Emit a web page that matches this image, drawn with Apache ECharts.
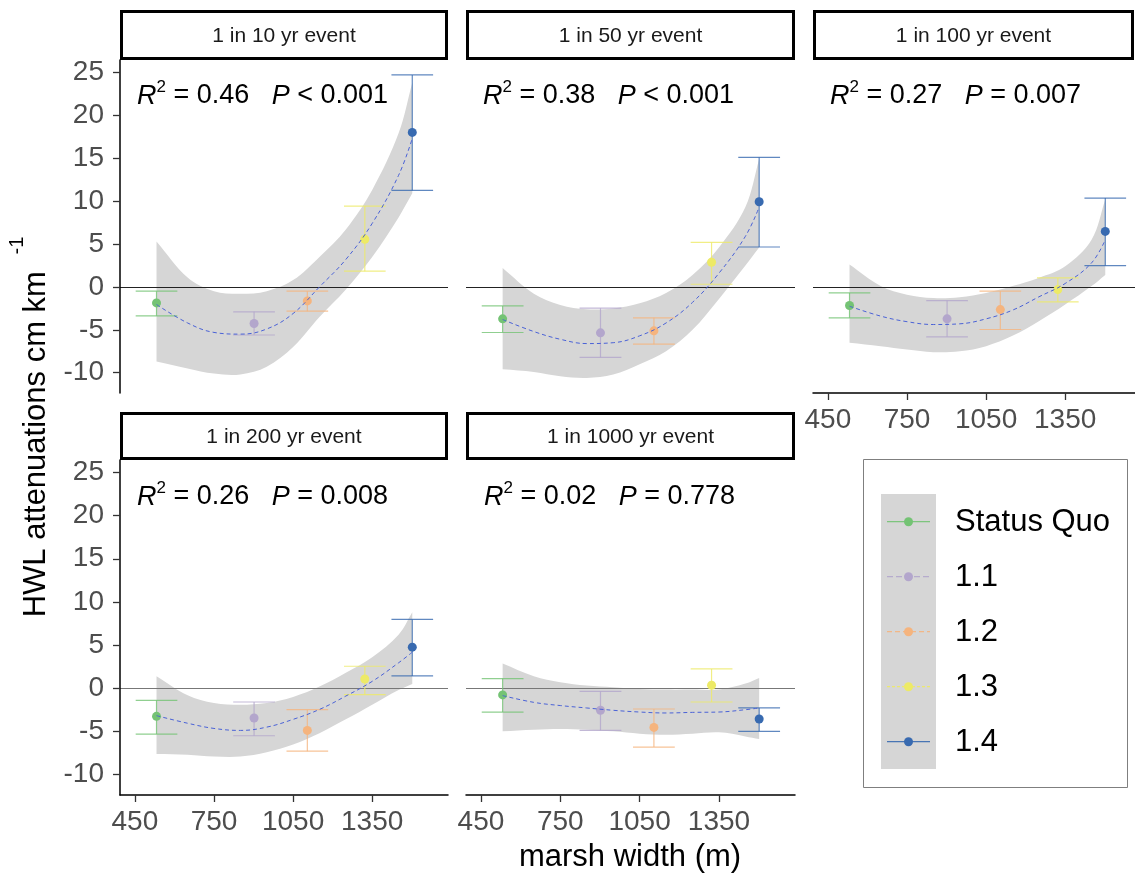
<!DOCTYPE html>
<html>
<head>
<meta charset="utf-8">
<title>HWL attenuation vs marsh width</title>
<script src="https://cdn.jsdelivr.net/npm/echarts@6/dist/echarts.min.js"></script>
<style>
  html, body { margin: 0; padding: 0; background: #fff; }
  #chart { width: 1135px; height: 879px; }
</style>
</head>
<body>
<div id="chart"></div>
<script>
// scenarios and their marsh widths (m)
const scenarios = ['Status Quo', '1.1', '1.2', '1.3', '1.4'];
const widths = [532, 902, 1104, 1322, 1502];
const colors = ['#74C374', '#B3A6CC', '#F5B47E', '#EDEA66', '#386AB0'];

const events = ['1 in 10 yr event', '1 in 50 yr event', '1 in 100 yr event', '1 in 200 yr event', '1 in 1000 yr event'];
const r2 = ['0.46', '0.38', '0.27', '0.26', '0.02'];
const pText = ['< 0.001', '< 0.001', '= 0.007', '= 0.008', '= 0.778'];

// mean attenuation and error bar ends, per scenario
const mean10 = [-1.86, -4.26, -1.63, 5.55, 18.0];
const lo10 = [-3.37, -5.6, -2.83, 1.83, 11.24];
const hi10 = [-0.5, -2.9, -0.5, 9.42, 24.7];

const mean50 = [-3.72, -5.35, -5.12, 2.87, 9.92];
const lo50 = [-5.31, -8.22, -6.67, 0.31, 4.65];
const hi50 = [-2.21, -2.48, -3.6, 5.19, 15.1];

const mean100 = [-2.17, -3.72, -2.64, -0.31, 6.47];
const lo100 = [-3.6, -5.81, -4.96, -1.74, 2.48];
const hi100 = [-0.7, -1.59, -0.5, 1.05, 10.35];

const mean200 = [-3.25, -3.44, -4.88, 1.08, 4.76];
const lo200 = [-5.3, -5.5, -7.28, -0.74, 1.43];
const hi200 = [-1.39, -1.59, -2.48, 2.55, 7.97];

const mean1000 = [-0.77, -2.55, -4.53, 0.35, -3.56];
const lo1000 = [-2.75, -4.88, -6.81, -1.59, -4.99];
const hi1000 = [1.12, -0.35, -2.4, 2.24, -2.28];

// fitted curve and its confidence band, read at these widths
const fitX = [532, 650, 750, 850, 950, 1050, 1150, 1250, 1350, 1450, 1502];

const fit10 = [-2.05, -4.2, -5.3, -5.5, -4.9, -3.1, 0.0, 3.2, 7.4, 13.0, 17.3];
const bandHi10 = [5.3, 1.1, -0.5, -0.8, -0.5, 0.8, 3.5, 6.7, 11.3, 17.9, 23.8];
const bandLo10 = [-8.7, -9.5, -10.1, -10.2, -9.3, -7.0, -3.5, -0.3, 3.5, 8.1, 10.9];

const fit50 = [-3.8, -5.2, -6.1, -6.6, -6.5, -5.7, -4.2, -1.8, 1.6, 5.9, 9.3];
const bandHi50 = [2.2, -0.8, -2.1, -2.6, -2.5, -1.9, -0.7, 1.4, 4.6, 9.3, 14.9];
const bandLo50 = [-9.6, -9.9, -10.4, -10.6, -10.2, -9.0, -7.5, -5.0, -1.4, 2.5, 4.6];

const fit100 = [-2.25, -3.4, -4.05, -4.38, -4.3, -3.72, -2.71, -1.16, 0.4, 2.8, 5.5];
const bandHi100 = [2.6, 0.1, -0.9, -1.3, -1.2, -0.7, 0.1, 1.05, 2.4, 5.5, 10.2];
const bandLo100 = [-6.5, -6.9, -7.3, -7.6, -7.5, -6.9, -5.7, -4.0, -2.05, 0.1, 1.4];

const fit200 = [-3.17, -4.05, -4.65, -4.88, -4.5, -3.6, -2.45, -0.9, 0.8, 2.95, 4.18];
const bandHi200 = [1.4, -0.8, -1.7, -1.9, -1.7, -1.0, 0.2, 1.8, 3.6, 6.2, 8.8];
const bandLo200 = [-7.6, -7.7, -7.9, -7.9, -7.4, -6.5, -5.2, -3.6, -1.9, -0.2, 0.5];

const fit1000 = [-0.85, -1.63, -2.0, -2.28, -2.55, -2.75, -2.86, -2.79, -2.75, -2.48, -2.28];
const bandHi1000 = [2.86, 1.39, 0.7, 0.31, 0.12, -0.08, -0.15, -0.15, -0.15, 0.54, 1.2];
const bandLo1000 = [-4.99, -4.8, -4.72, -4.8, -4.99, -5.26, -5.38, -5.26, -5.1, -5.57, -5.88];

// tick labels
const xTicks = [450, 750, 1050, 1350];
const yTicks = [-10, -5, 0, 5, 10, 15, 20, 25];

const panels = [
  {mean: mean10, lo: lo10, hi: hi10, fit: fit10, bandLo: bandLo10, bandHi: bandHi10},
  {mean: mean50, lo: lo50, hi: hi50, fit: fit50, bandLo: bandLo50, bandHi: bandHi50},
  {mean: mean100, lo: lo100, hi: hi100, fit: fit100, bandLo: bandLo100, bandHi: bandHi100},
  {mean: mean200, lo: lo200, hi: hi200, fit: fit200, bandLo: bandLo200, bandHi: bandHi200},
  {mean: mean1000, lo: lo1000, hi: hi1000, fit: fit1000, bandLo: bandLo1000, bandHi: bandHi1000}
];

const FONT = '"Liberation Sans", Arial, sans-serif';

// panel boxes (facet layout)
const layout = [
  {left: 120, top: 60, width: 328, height: 333, showX: false, showY: true, zero: '#222'},
  {left: 466, top: 60, width: 329, height: 333, showX: false, showY: false, zero: '#222'},
  {left: 813, top: 60, width: 328, height: 333, showX: true, showY: false, zero: '#222'},
  {left: 120, top: 460, width: 328, height: 335, showX: true, showY: true, zero: '#777'},
  {left: 466, top: 460, width: 329, height: 335, showX: true, showY: false, zero: '#777'}
];
const strips = [
  {x: 121.5, y: 11.5, w: 325, h: 47},
  {x: 467.5, y: 11.5, w: 326, h: 47},
  {x: 814.5, y: 11.5, w: 318, h: 47},
  {x: 121.5, y: 413.5, w: 325, h: 45},
  {x: 467.5, y: 413.5, w: 326, h: 45}
];
const capHalf = 79; // half width of error bar caps, in metres

const chart = echarts.init(document.getElementById('chart'));

const grid = layout.map(l => ({
  left: l.left, top: l.top, width: l.width, height: l.height,
  containLabel: false, outerBoundsMode: 'none'
}));

const xAxis = layout.map((l, i) => ({
  type: 'value', gridIndex: i, min: 393.5, max: 1637.5, z: 6,
  axisLine: {show: l.showX, onZero: false, lineStyle: {color: '#000', width: 1.5}},
  axisTick: {show: l.showX, length: 7, customValues: xTicks, lineStyle: {color: '#333', width: 1.3}},
  axisLabel: {show: l.showX, customValues: xTicks, fontSize: 28, color: '#4d4d4d', fontFamily: FONT,
    margin: 13, formatter: v => String(v)},
  splitLine: {show: false}
}));

const yAxis = layout.map((l, i) => ({
  type: 'value', gridIndex: i, min: -12.36, max: 26.44, z: 6,
  axisLine: {show: l.showY, onZero: false, lineStyle: {color: '#000', width: 1.5}},
  axisTick: {show: l.showY, length: 7, customValues: yTicks, lineStyle: {color: '#333', width: 1.3}},
  axisLabel: {show: l.showY, customValues: yTicks, fontSize: 28, color: '#4d4d4d', fontFamily: FONT,
    margin: 16, formatter: v => String(v)},
  splitLine: {show: false}
}));

const series = [];
panels.forEach((p, i) => {
  const ax = {xAxisIndex: i, yAxisIndex: i};
  // confidence band as one smoothed polygon; corner points doubled to keep the ends square
  series.push({
    type: 'custom', ...ax, z: 1, silent: true,
    data: [[fitX[0], p.fit[0]]],
    renderItem: (params, api) => {
      const upper = fitX.map((x, k) => api.coord([x, p.bandHi[k]]));
      const lower = fitX.map((x, k) => api.coord([x, p.bandLo[k]])).reverse();
      const n = upper.length;
      const pts = [upper[0], ...upper, upper[n - 1], lower[0], ...lower, lower[n - 1]];
      return {type: 'polygon', shape: {points: pts, smooth: 0.35}, style: {fill: '#d6d6d6'}};
    }
  });
  // error bars
  series.push({
    type: 'custom', ...ax, z: 3, silent: true,
    data: widths.map((x, k) => [x, p.lo[k], p.hi[k], k]),
    encode: {x: 0, y: [1, 2]},
    renderItem: (params, api) => {
      const x = api.value(0), k = api.value(3);
      const top = api.coord([x, api.value(2)]);
      const bot = api.coord([x, api.value(1)]);
      const l = api.coord([x - capHalf, 0])[0];
      const r = api.coord([x + capHalf, 0])[0];
      const style = {stroke: colors[k], lineWidth: 1.2, opacity: 0.8};
      return {type: 'group', children: [
        {type: 'line', shape: {x1: top[0], y1: top[1], x2: bot[0], y2: bot[1]}, style},
        {type: 'line', shape: {x1: l, y1: top[1], x2: r, y2: top[1]}, style},
        {type: 'line', shape: {x1: l, y1: bot[1], x2: r, y2: bot[1]}, style}
      ]};
    },
    markLine: {
      silent: true, symbol: 'none', z: 2, animation: false,
      label: {show: false},
      lineStyle: {color: layout[i].zero, width: 1, type: 'solid'},
      data: [{yAxis: 0}]
    }
  });
  // scenario means
  series.push({
    type: 'scatter', ...ax, z: 4, silent: true, symbolSize: 9,
    data: widths.map((x, k) => ({value: [x, p.mean[k]], itemStyle: {color: colors[k], opacity: 1}}))
  });
  // fitted curve
  series.push({
    type: 'line', ...ax, z: 5, silent: true, smooth: 0.4, symbol: 'none',
    lineStyle: {color: '#4a62d6', width: 1, type: [4, 3]},
    data: fitX.map((x, k) => [x, p.fit[k]])
  });
});

const graphic = [];
// facet strips
strips.forEach((s, i) => {
  graphic.push({type: 'rect', shape: {x: s.x, y: s.y, width: s.w, height: s.h},
    style: {fill: '#fff', stroke: '#000', lineWidth: 3}, z: 10});
  graphic.push({type: 'text', x: s.x + s.w / 2, y: s.y + s.h / 2 + 1, z: 11,
    style: {text: events[i], fill: '#1a1a1a', font: '21px ' + FONT, align: 'center', verticalAlign: 'middle'}});
});
// R2 / P annotations
const statPos = [[137, 96], [483, 96], [830, 96], [137, 497], [484, 497]];
statPos.forEach((pos, i) => {
  graphic.push({type: 'text', x: pos[0], y: pos[1], z: 11,
    style: {
      text: '{i|R}{s|2}{n| = ' + r2[i] + '   }{i|P}{n| ' + pText[i] + '}',
      align: 'left', verticalAlign: 'middle',
      rich: {
        i: {fill: '#000', fontSize: 27, fontStyle: 'italic', fontFamily: FONT},
        n: {fill: '#000', fontSize: 27, fontFamily: FONT},
        s: {fill: '#000', fontSize: 17, fontFamily: FONT, padding: [0, 0, 17, 0]}
      }
    }});
});
// axis titles
graphic.push({type: 'text', x: 36, y: 427, rotation: Math.PI / 2, z: 11,
  style: {
    text: '{n|HWL attenuations cm km }{s|-1}', align: 'center', verticalAlign: 'middle',
    rich: {
      n: {fill: '#000', fontSize: 31, fontFamily: FONT},
      s: {fill: '#000', fontSize: 20, fontFamily: FONT, padding: [0, 0, 38, 8]}
    }
  }});
graphic.push({type: 'text', x: 630, y: 857, z: 11,
  style: {text: 'marsh width (m)', fill: '#000', font: '31px ' + FONT, align: 'center', verticalAlign: 'middle'}});

// legend
graphic.push({type: 'rect', shape: {x: 863.5, y: 459.5, width: 264, height: 328},
  style: {fill: '#fff', stroke: '#7f7f7f', lineWidth: 1}, z: 10});
graphic.push({type: 'rect', shape: {x: 881, y: 494, width: 55, height: 275},
  style: {fill: '#d6d6d6'}, z: 11});
const keyDash = [null, [6, 3], [5, 3], [3, 2], null];
scenarios.forEach((name, k) => {
  const y = 521.7 + 55 * k;
  graphic.push({type: 'line', shape: {x1: 887, y1: y, x2: 930, y2: y}, z: 12,
    style: {stroke: colors[k], lineWidth: 1.2, lineDash: keyDash[k], opacity: 0.9}});
  graphic.push({type: 'circle', shape: {cx: 908.5, cy: y, r: 4.5}, z: 13, style: {fill: colors[k]}});
  graphic.push({type: 'text', x: 955, y: y + 1, z: 12,
    style: {text: name, fill: '#000', font: '31px ' + FONT, align: 'left', verticalAlign: 'middle'}});
});

chart.setOption({
  animation: false,
  grid: grid,
  xAxis: xAxis,
  yAxis: yAxis,
  series: series,
  graphic: graphic
});
</script>
</body>
</html>
